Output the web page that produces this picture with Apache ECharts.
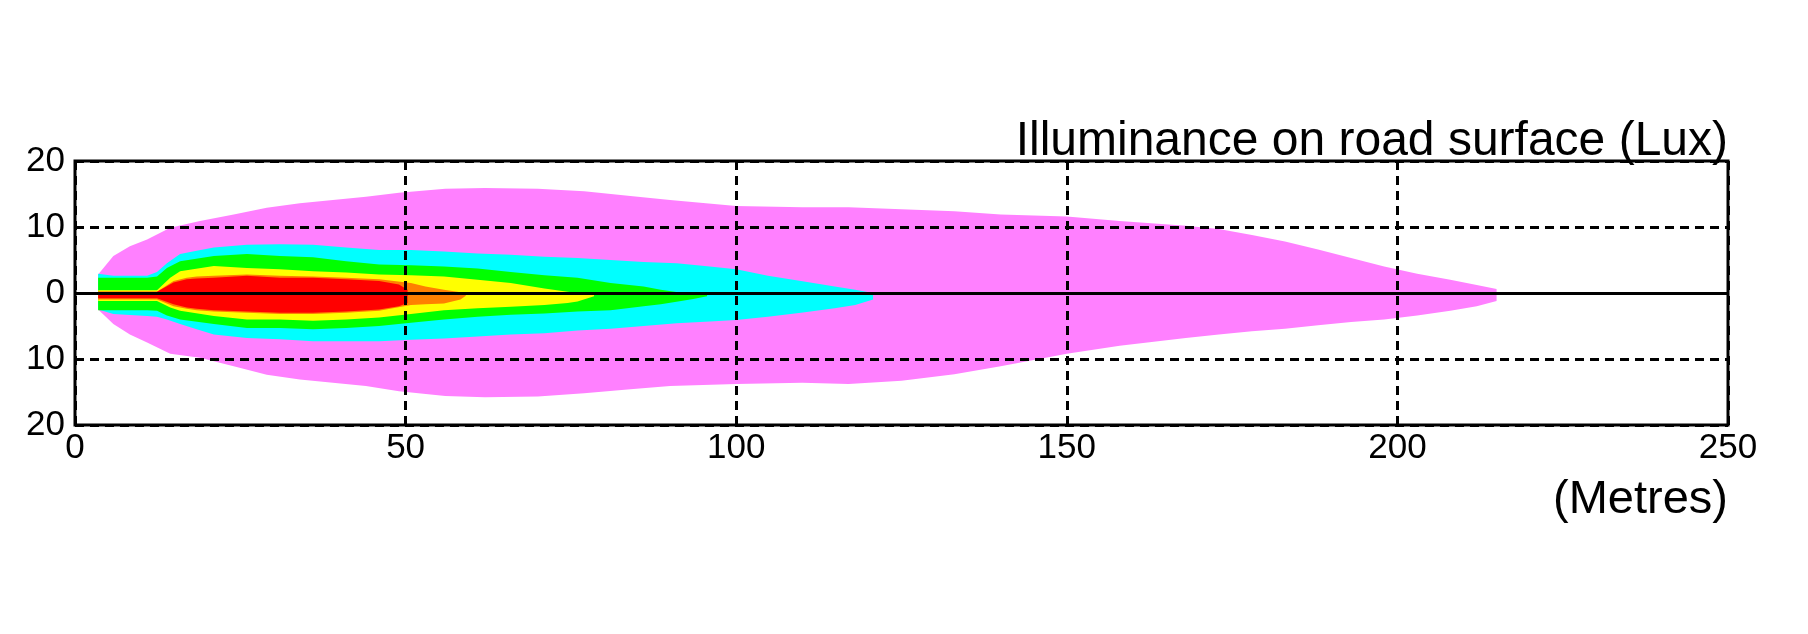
<!DOCTYPE html>
<html>
<head>
<meta charset="utf-8">
<script src="https://cdn.jsdelivr.net/npm/echarts@6/dist/echarts.min.js"></script>
<style>
html,body{margin:0;padding:0;background:#fff;}
#chart{width:1808px;height:634px;}
</style>
</head>
<body>
<div id="chart"></div>
<script>
// ---- Data (metres along road, lateral offset in metres) ----
const xTicks = [0, 50, 100, 150, 200, 250];
const yTicks = [-20, -10, 0, 10, 20];

// Pink zone (lowest illuminance)
const pinkX     = [3.5, 5.8, 8.3, 10.9, 14.4, 18.9, 24, 29, 34, 39, 44, 49, 56, 62, 70, 77, 84, 90, 100, 110, 117, 125, 133, 140, 150, 158, 168, 173, 178, 183, 188, 193, 198, 203, 208, 212, 215];
const pinkUpper = [2.8, 5.6, 7.1, 8.1, 9.9, 10.9, 11.9, 12.9, 13.6, 14.1, 14.6, 15.2, 15.8, 15.9, 15.8, 15.4, 14.7, 14.1, 13.2, 13.0, 13.0, 12.7, 12.4, 11.9, 11.6, 10.9, 10.2, 9.7, 8.8, 7.8, 6.6, 5.3, 4.0, 2.9, 2.0, 1.2, 0.6];
const pinkLower = [-2.5, -4.7, -6.3, -7.5, -9.2, -9.8, -11.1, -12.4, -13.1, -13.6, -14.1, -14.9, -15.6, -15.8, -15.7, -15.2, -14.6, -14.1, -13.8, -13.6, -13.8, -13.3, -12.3, -11.1, -9.2, -8.0, -6.8, -6.3, -5.8, -5.4, -4.9, -4.4, -4.0, -3.4, -2.7, -2.0, -1.2];

// Cyan zone
const cyanX     = [3.5, 5.8, 10.9, 12.4, 13.9, 15.9, 18.4, 21, 26, 31, 36, 41, 46, 50.8, 55.8, 60.9, 65.9, 71, 76, 81, 86, 91, 96, 100, 104.8, 109.8, 114.9, 118, 120.7];
const cyanUpper = [2.9, 2.6, 2.6, 3.2, 4.5, 5.9, 6.4, 6.9, 7.3, 7.4, 7.3, 6.9, 6.5, 6.5, 6.3, 6.0, 5.8, 5.5, 5.3, 5.0, 4.7, 4.5, 4.0, 3.6, 2.6, 1.8, 1.0, 0.5, 0.0];
const cyanLower = [-2.5, -3.2, -3.5, -3.6, -4.0, -4.7, -5.5, -6.3, -6.8, -7.0, -7.3, -7.3, -7.3, -7.1, -6.9, -6.6, -6.3, -6.1, -5.7, -5.4, -5.0, -4.6, -4.3, -4.1, -3.6, -3.0, -2.3, -1.8, -1.0];

// Green zone
const greenX     = [3.5, 10.9, 12.4, 13.9, 15.9, 21, 26, 31, 36, 41, 46, 50.8, 55.8, 60.9, 65.9, 71, 76, 81, 86, 88.6, 91.2, 93.5, 95.6];
const greenUpper = [2.3, 2.3, 2.5, 3.8, 4.8, 5.6, 5.9, 5.6, 5.4, 4.8, 4.3, 4.2, 4.0, 3.7, 3.2, 2.7, 2.3, 1.5, 1.0, 0.5, 0.1, 0, 0];
const greenLower = [-2.6, -2.6, -2.7, -3.4, -4.0, -4.7, -5.3, -5.3, -5.5, -5.3, -5.0, -4.5, -4.0, -3.6, -3.3, -3.1, -2.8, -2.6, -2.0, -1.7, -1.3, -0.9, -0.5];

// Yellow zone
const yellowX     = [3.5, 12.4, 14.4, 15.9, 21, 26, 31, 36, 41, 46, 50.8, 55.8, 60.9, 65.9, 71, 74.5, 76, 78.5];
const yellowUpper = [0.4, 0.4, 2.3, 3.3, 4.1, 3.8, 3.6, 3.3, 3.1, 2.8, 2.7, 2.5, 2.0, 1.5, 0.7, 0.2, 0, 0];
const yellowLower = [-1.2, -1.2, -2.2, -2.7, -3.5, -4.0, -4.0, -4.2, -4.0, -3.7, -3.2, -2.6, -2.3, -2.1, -1.8, -1.5, -1.3, -0.5];

// Orange zone
const orangeX     = [3.5, 12.4, 14.9, 16.9, 18.4, 21, 26, 31, 36, 41, 46, 50.8, 53, 55.8, 58.3, 59.1];
const orangeUpper = [0.2, 0.2, 1.8, 2.3, 2.5, 2.6, 2.8, 2.6, 2.5, 2.3, 2.1, 1.5, 1.0, 0.5, 0.1, 0];
const orangeLower = [-1.0, -1.0, -2.0, -2.4, -2.6, -2.8, -3.0, -3.2, -3.2, -3.0, -2.7, -1.8, -1.7, -1.6, -1.0, -0.4];

// Red zone (highest illuminance)
const redX     = [3.5, 12.4, 14.9, 16.9, 18.4, 21, 26, 31, 36, 41, 46, 49, 50.3];
const redUpper = [0.2, 0.2, 1.6, 2.1, 2.2, 2.3, 2.6, 2.3, 2.3, 2.1, 1.8, 1.3, 0.5];
const redLower = [-0.8, -0.8, -1.7, -2.2, -2.4, -2.6, -2.8, -3.0, -3.0, -2.8, -2.5, -2.0, -1.5];

const titleText = 'Illuminance on road surface (Lux)';
const xUnitText = '(Metres)';

// ---- Build ----
const FONT = '"Liberation Sans", Arial, Helvetica, sans-serif';
function zone(name, xs, ys, color) {
  return {
    name: name,
    type: 'line',
    data: xs.map((x, i) => [x, ys[i]]),
    symbol: 'none',
    silent: true,
    smooth: false,
    lineStyle: { width: 0, color: color },
    itemStyle: { color: color },
    areaStyle: { color: color, opacity: 1 },
    z: 2
  };
}
const zones = [
  ['pink', pinkX, pinkUpper, pinkLower, '#ff80ff'],
  ['cyan', cyanX, cyanUpper, cyanLower, '#00ffff'],
  ['green', greenX, greenUpper, greenLower, '#00ff00'],
  ['yellow', yellowX, yellowUpper, yellowLower, '#ffff00'],
  ['orange', orangeX, orangeUpper, orangeLower, '#ff8000'],
  ['red', redX, redUpper, redLower, '#ff0000']
];
const series = [];
zones.forEach(z => {
  series.push(zone(z[0] + ' upper', z[1], z[2], z[4]));
  series.push(zone(z[0] + ' lower', z[1], z[3], z[4]));
});
series[0].markLine = {
  silent: true,
  symbol: 'none',
  label: { show: false },
  lineStyle: { color: '#000', width: 3, type: 'solid' },
  data: [{ yAxis: 0 }],
  z: 6
};

const chart = echarts.init(document.getElementById('chart'), null, { renderer: 'canvas' });
chart.setOption({
  animation: false,
  backgroundColor: '#fff',
  title: [
    { text: titleText, right: 80, top: 118, padding: 0,
      textStyle: { fontFamily: FONT, fontSize: 48, fontWeight: 'normal', color: '#000' } },
    { text: xUnitText, right: 80, top: 477, padding: 0,
      textStyle: { fontFamily: FONT, fontSize: 47, fontWeight: 'normal', color: '#000' } }
  ],
  grid: {
    left: 75, right: 80, top: 161, bottom: 209,
    show: true, borderColor: '#000', borderWidth: 3, backgroundColor: 'transparent'
  },
  xAxis: {
    type: 'value', min: xTicks[0], max: xTicks[xTicks.length - 1], interval: 50, z: 3,
    axisLine: { show: false }, axisTick: { show: false },
    axisLabel: { fontFamily: FONT, fontSize: 35, color: '#000', margin: 6 },
    splitLine: { show: true, lineStyle: { color: '#000', width: 3, type: [9, 6] } }
  },
  yAxis: {
    type: 'value', min: yTicks[0], max: yTicks[yTicks.length - 1], interval: 10, z: 3,
    axisLine: { show: false }, axisTick: { show: false },
    axisLabel: { fontFamily: FONT, fontSize: 35, color: '#000', margin: 10,
      formatter: v => String(Math.abs(v)) },
    splitLine: { show: true, lineStyle: { color: '#000', width: 3, type: [9, 6] } }
  },
  series: series
});
</script>
</body>
</html>
